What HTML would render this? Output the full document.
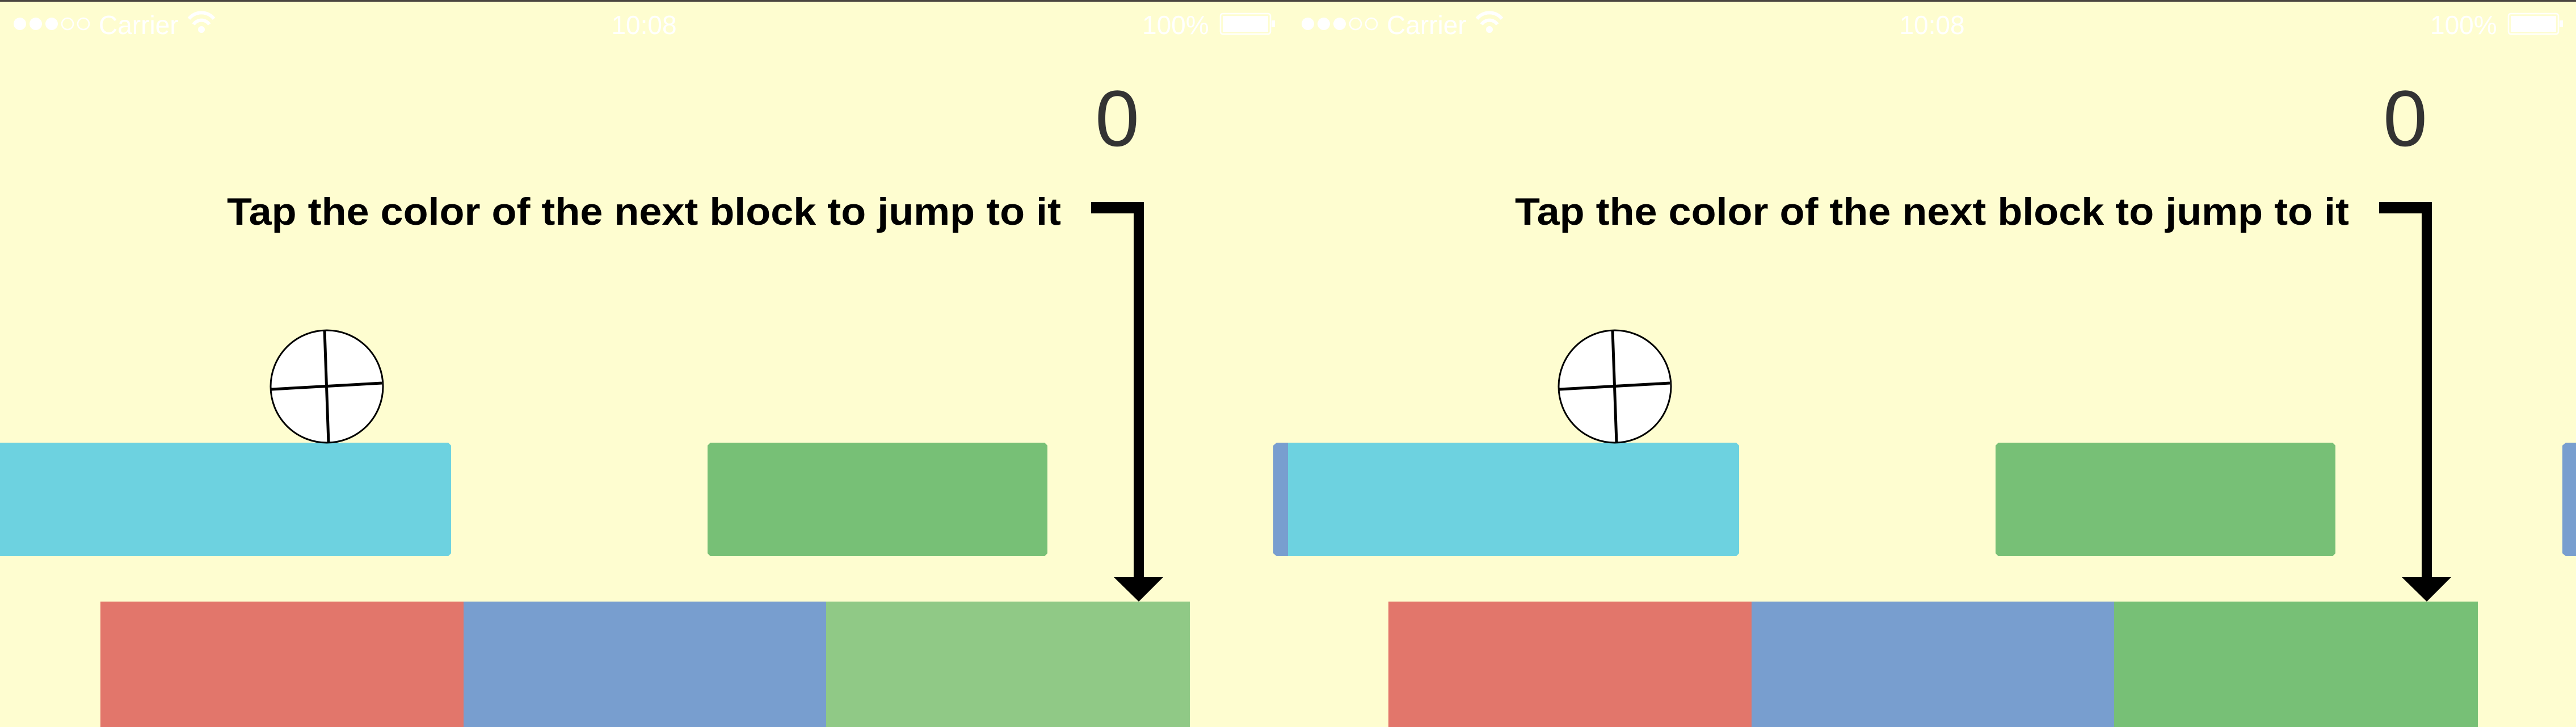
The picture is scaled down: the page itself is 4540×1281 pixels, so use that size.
<!DOCTYPE html>
<html><head><meta charset="utf-8"><style>
html,body{margin:0;padding:0;background:#fefdd0;}
svg{display:block}
</style></head><body>
<svg width="4540" height="1281" viewBox="0 0 4540 1281" xmlns="http://www.w3.org/2000/svg">
<rect x="0" y="0" width="4540" height="1281" fill="#fefdd0"/>
<rect x="0" y="0" width="4540" height="3" fill="#4a4540"/>

<g>
  <g fill="#ffffff">
    <circle cx="35" cy="42" r="11"/><circle cx="63" cy="42" r="11"/><circle cx="91" cy="42" r="11"/>
    <circle cx="119" cy="42" r="10" fill="none" stroke="#fff" stroke-width="2.5"/><circle cx="147" cy="42" r="10" fill="none" stroke="#fff" stroke-width="2.5"/>
    <text x="174" y="60" font-family="Liberation Sans, sans-serif" font-size="46">Carrier</text>
    <path d="M333 33 A28 28 0 0 1 377 33" stroke="#fff" stroke-width="6" fill="none"/>
    <path d="M341 43 A17 17 0 0 1 369 43" stroke="#fff" stroke-width="6" fill="none"/>
    <circle cx="355" cy="52" r="6"/>
    <text x="1135" y="60" text-anchor="middle" font-family="Liberation Sans, sans-serif" font-size="46">10:08</text>
    <text x="2013" y="60" font-family="Liberation Sans, sans-serif" font-size="46">100%</text>
    <rect x="2151" y="24" width="88" height="36" rx="4" fill="none" stroke="#fff" stroke-width="2.5"/>
    <rect x="2155" y="28" width="80" height="28"/>
    <rect x="2241" y="36" width="6" height="12"/>
  </g>
  <text x="1969" y="257" text-anchor="middle" font-family="Liberation Sans, sans-serif" font-size="140" fill="#333333">0</text>
  <text x="400" y="396" textLength="1470" lengthAdjust="spacingAndGlyphs" font-family="Liberation Sans, sans-serif" font-weight="bold" font-size="68" fill="#000">Tap the color of the next block to jump to it</text>
  <g fill="#000">
    <rect x="1923" y="356" width="93" height="20"/>
    <rect x="1998" y="356" width="18" height="665"/>
    <polygon points="1963,1017 2050,1017 2007,1060"/>
  </g>
  <path d="M0 780 H790 L795 785 V975 L790 980 H0 Z" fill="#6dd2e0"/>
  <path d="M1252 780 H1841 L1846 785 V975 L1841 980 H1252 L1247 975 V785 Z" fill="#77c076"/>
  <path d="M2250 780 H2270 V980 H2250 L2244 975 V785 Z" fill="#789ecf"/>
  <g>
    <circle cx="576" cy="681" r="99" fill="#fff" stroke="#000" stroke-width="3"/>
    <line x1="572" y1="582" x2="579" y2="780" stroke="#000" stroke-width="5"/>
    <line x1="478" y1="686" x2="673" y2="675" stroke="#000" stroke-width="5"/>
  </g>
  <rect x="177" y="1060" width="640" height="221" fill="#e2766b"/>
  <rect x="817" y="1060" width="639" height="221" fill="#789ecf"/>
  <rect x="1456" y="1060" width="641" height="221" fill="#90c986"/>
</g>

<g transform="translate(2270,0)">
  <g fill="#ffffff">
    <circle cx="35" cy="42" r="11"/><circle cx="63" cy="42" r="11"/><circle cx="91" cy="42" r="11"/>
    <circle cx="119" cy="42" r="10" fill="none" stroke="#fff" stroke-width="2.5"/><circle cx="147" cy="42" r="10" fill="none" stroke="#fff" stroke-width="2.5"/>
    <text x="174" y="60" font-family="Liberation Sans, sans-serif" font-size="46">Carrier</text>
    <path d="M333 33 A28 28 0 0 1 377 33" stroke="#fff" stroke-width="6" fill="none"/>
    <path d="M341 43 A17 17 0 0 1 369 43" stroke="#fff" stroke-width="6" fill="none"/>
    <circle cx="355" cy="52" r="6"/>
    <text x="1135" y="60" text-anchor="middle" font-family="Liberation Sans, sans-serif" font-size="46">10:08</text>
    <text x="2013" y="60" font-family="Liberation Sans, sans-serif" font-size="46">100%</text>
    <rect x="2151" y="24" width="88" height="36" rx="4" fill="none" stroke="#fff" stroke-width="2.5"/>
    <rect x="2155" y="28" width="80" height="28"/>
    <rect x="2241" y="36" width="6" height="12"/>
  </g>
  <text x="1969" y="257" text-anchor="middle" font-family="Liberation Sans, sans-serif" font-size="140" fill="#333333">0</text>
  <text x="400" y="396" textLength="1470" lengthAdjust="spacingAndGlyphs" font-family="Liberation Sans, sans-serif" font-weight="bold" font-size="68" fill="#000">Tap the color of the next block to jump to it</text>
  <g fill="#000">
    <rect x="1923" y="356" width="93" height="20"/>
    <rect x="1998" y="356" width="18" height="665"/>
    <polygon points="1963,1017 2050,1017 2007,1060"/>
  </g>
  <path d="M0 780 H790 L795 785 V975 L790 980 H0 Z" fill="#6dd2e0"/>
  <path d="M1252 780 H1841 L1846 785 V975 L1841 980 H1252 L1247 975 V785 Z" fill="#77c076"/>
  <path d="M2252 780 H2270 V980 H2252 L2246 975 V785 Z" fill="#789ecf"/>
  <g>
    <circle cx="576" cy="681" r="99" fill="#fff" stroke="#000" stroke-width="3"/>
    <line x1="572" y1="582" x2="579" y2="780" stroke="#000" stroke-width="5"/>
    <line x1="478" y1="686" x2="673" y2="675" stroke="#000" stroke-width="5"/>
  </g>
  <rect x="177" y="1060" width="640" height="221" fill="#e2766b"/>
  <rect x="817" y="1060" width="639" height="221" fill="#789ecf"/>
  <rect x="1456" y="1060" width="641" height="221" fill="#77c076"/>
</g>
</svg>
</body></html>
